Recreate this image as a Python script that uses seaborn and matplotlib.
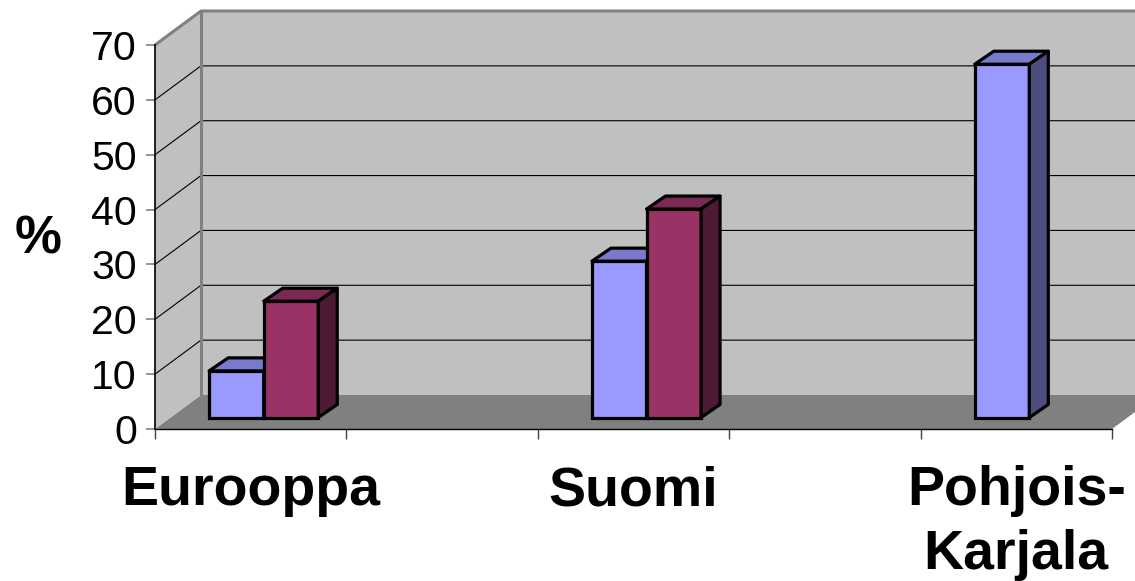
import matplotlib
matplotlib.use("Agg")
import matplotlib.pyplot as plt
import matplotlib.colors as mcolors
import pandas as pd
import seaborn as sns
from matplotlib.patches import Polygon

# values (percent)
slots = ["Eurooppa", "gap1", "Suomi", "gap2", "Pohjois-Karjala"]
tick_names = ["Eurooppa", "Suomi", "Pohjois-\nKarjala"]
regions_a = ["Eurooppa", "Suomi", "Pohjois-Karjala"]
values_a = [8.5, 28.5, 64.4]
regions_b = ["Eurooppa", "Suomi"]
values_b = [21.2, 38.0]
yticks = [0, 10, 20, 30, 40, 50, 60, 70]
palette = {"a": "#9999FF", "b": "#993366"}

df = pd.concat([
    pd.DataFrame({"region": regions_a, "pct": values_a, "series": "a"}),
    pd.DataFrame({"region": regions_b, "pct": values_b, "series": "b"}),
])

sns.set_style("white")
plt.rcParams["font.family"] = ["Liberation Sans", "DejaVu Sans"]

W, H = 1135, 581
fig = plt.figure(figsize=(W / 100, H / 100), dpi=100)
# front plane of the 3d box: x 155..1112 px, y 45..429 px
ax = fig.add_axes([155 / W, (H - 429) / H, 957 / W, 384 / H])
ax.patch.set_visible(False)

sns.barplot(data=df, x="region", y="pct", hue="series", order=slots,
            hue_order=["a", "b"], palette=palette, width=0.57, gap=0,
            saturation=1, errorbar=None, legend=False, ax=ax,
            edgecolor="black", linewidth=2.3)
bars = sorted([p for p in ax.patches if p.get_height() > 0], key=lambda p: p.get_x())

ax.set_xlim(-0.5, 4.5)
ax.set_ylim(0, 70)

# depth of the box, pixel offsets turned into data units
ux = 957 / 5
uy = 384 / 70
DX, DY = 46 / ux, 34 / uy
x0, x1 = -0.5, 4.5
ytop = 70

wall = "#C0C0C0"
edge = "#808080"
# floor
ax.add_patch(Polygon([(x0, 0), (x1, 0), (x1 + DX, DY), (x0 + DX, DY)],
                     closed=True, fc="#808080", ec="none", zorder=0.5, clip_on=False))
# side wall
ax.add_patch(Polygon([(x0, 0), (x0 + DX, DY), (x0 + DX, ytop + DY), (x0, ytop)],
                     closed=True, fc=wall, ec="none", zorder=0.5, clip_on=False))
# back wall
ax.add_patch(Polygon([(x0 + DX, DY), (x1 + DX, DY), (x1 + DX, ytop + DY), (x0 + DX, ytop + DY)],
                     closed=True, fc=wall, ec="none", zorder=0.5, clip_on=False))
# gridlines on the walls
for v in yticks[1:-1]:
    ax.plot([x0, x0 + DX, x1 + DX], [v, v + DY, v + DY], color="black", lw=0.8,
            zorder=0.6, clip_on=False)
# wall edges
ax.plot([x0, x0 + DX, x1 + DX], [ytop, ytop + DY, ytop + DY], color=edge, lw=2.2,
        zorder=0.7, clip_on=False, solid_capstyle="butt")
ax.plot([x0 + DX, x0 + DX], [DY, ytop + DY], color=edge, lw=2.2, zorder=0.7, clip_on=False)

# 3d bars: front face from seaborn, shifted into the box, plus top and side faces
sx, sy = 13 / ux, 11.5 / uy
bx, by = 19 / ux, 13 / uy
for i, p in enumerate(bars):
    z = 3 + i
    p.set_zorder(z)
    p.set_x(p.get_x() + sx)
    p.set_y(sy)
    xa, w, h = p.get_x(), p.get_width(), p.get_height()
    rgb = mcolors.to_rgb(p.get_facecolor())
    top_c = tuple(c * 0.8 for c in rgb)
    side_c = tuple(c * 0.5 for c in rgb)
    ax.add_patch(Polygon([(xa, sy + h), (xa + w, sy + h), (xa + w + bx, sy + h + by), (xa + bx, sy + h + by)],
                         closed=True, fc=top_c, ec="black", lw=2.3, zorder=z, joinstyle="round"))
    ax.add_patch(Polygon([(xa + w, sy), (xa + w + bx, sy + by), (xa + w + bx, sy + h + by), (xa + w, sy + h)],
                         closed=True, fc=side_c, ec="black", lw=2.3, zorder=z, joinstyle="round"))

# axes
sns.despine(ax=ax)
ax.spines["left"].set_color("black")
ax.spines["left"].set_linewidth(1.2)
ax.spines["bottom"].set_color("black")
ax.spines["bottom"].set_linewidth(1.0)

ax.set_yticks(yticks)
ax.tick_params(axis="y", left=True, length=6.5, width=1.2, color="#808080", pad=6.5,
               labelsize=29.5, labelcolor="black", direction="out")

ax.set_xticks([0, 2, 4])
ax.set_xticklabels(tick_names, fontweight="bold", fontsize=40, linespacing=1.3)
ax.set_xticks([-0.5, 0.5, 1.5, 2.5, 3.5, 4.5], minor=True)
ax.tick_params(axis="x", which="major", bottom=True, length=0, pad=26, labelcolor="black")
ax.tick_params(axis="x", which="minor", bottom=True, length=7, width=1, color="#404040")
ax.set_xlabel("")

ax.set_ylabel("%", rotation=0, fontsize=38, fontweight="bold", color="black",
              ha="center", va="center")
ax.yaxis.set_label_coords((38.5 - 155) / 957, (429 - 240) / 384)

plt.savefig("out.png", dpi=100)
